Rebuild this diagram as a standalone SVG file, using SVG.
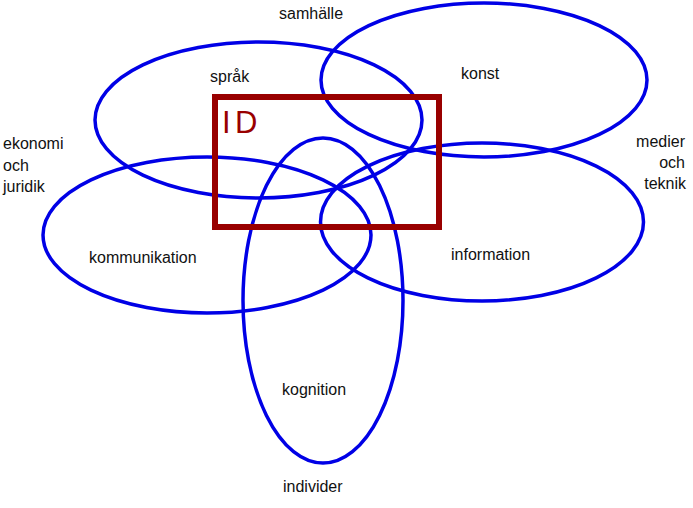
<svg xmlns="http://www.w3.org/2000/svg" width="693" height="508" viewBox="0 0 693 508">
<style>
.e{fill:none;stroke:#0000e6;stroke-width:3.5}
.t{font-family:"Liberation Sans",Arial,sans-serif;font-size:16px;fill:#111}
.id{font-family:"Liberation Sans",Arial,sans-serif;font-size:31px;fill:#990000;letter-spacing:4.5px}
</style>
<rect width="693" height="508" fill="#ffffff"/>
<g id="sprak"><ellipse class="e" cx="258.5" cy="120" rx="163.5" ry="78"/><text class="t" x="210" y="82">språk</text></g>
<g id="konst"><ellipse class="e" cx="484" cy="80" rx="163" ry="77"/><text class="t" x="461" y="79">konst</text></g>
<g id="kommunikation"><ellipse class="e" cx="207" cy="235" rx="164" ry="78"/><text class="t" x="89" y="263">kommunikation</text></g>
<g id="information"><ellipse class="e" cx="482" cy="222" rx="161.5" ry="79"/><text class="t" x="451" y="260">information</text></g>
<g id="kognition"><ellipse class="e" cx="323" cy="300.5" rx="80" ry="162.5"/><text class="t" x="282" y="395">kognition</text></g>
<g id="ID"><rect x="215" y="97" width="224" height="130" fill="none" stroke="#990000" stroke-width="6"/><text class="id" x="222" y="133">ID</text></g>
<g id="labels">
<text class="t" x="279" y="19">samhälle</text>
<text class="t" x="3"><tspan x="3" y="149">ekonomi</tspan><tspan x="3" y="171">och</tspan><tspan x="3" y="192">juridik</tspan></text>
<text class="t" text-anchor="end"><tspan x="685" y="147">medier</tspan><tspan x="685" y="168">och</tspan><tspan x="686" y="189">teknik</tspan></text>
<text class="t" x="283" y="492">individer</text>
</g>
<g id="connectors"/>
</svg>
